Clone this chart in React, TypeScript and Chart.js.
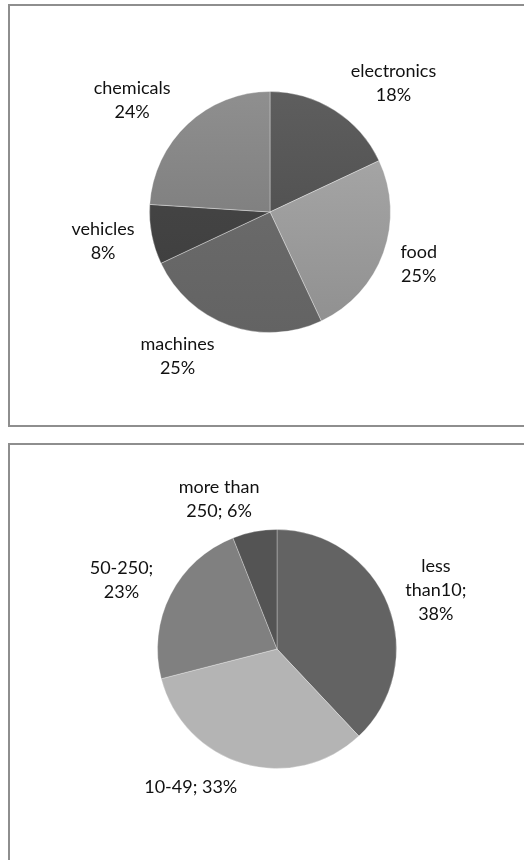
import React, { useEffect, useRef } from "react";
import { Chart, registerables } from "chart.js";

Chart.register(...registerables);

// ---- data ----
const industryLabels = ["electronics", "food", "machines", "vehicles", "chemicals"];
const industryShares = [18, 25, 25, 8, 24];

const sizeLabels = ["less than10", "10-49", "50-250", "more than 250"];
const sizeShares = [38, 33, 23, 6];

// ---- styles ----
const industryTop = ["#5e5e5e", "#adadad", "#707070", "#4a4a4a", "#8f8f8f"];
const industryBottom = ["#474747", "#8f8f8f", "#636363", "#3c3c3c", "#727272"];
const sizeColors = ["#636363", "#b4b4b4", "#808080", "#545454"];
const sizeWrap = [72, 130, 72, 95];

const FONT_FAMILY = "Lato, 'Open Sans', sans-serif";
const FONT_SIZE = 18;
const LINE_H = 24;

function wrapText(ctx: CanvasRenderingContext2D, text: string, maxW: number): string[] {
  const words = text.split(" ");
  const lines: string[] = [];
  let cur = "";
  for (const w of words) {
    const test = cur ? cur + " " + w : w;
    if (cur && ctx.measureText(test).width > maxW) {
      lines.push(cur);
      cur = w;
    } else {
      cur = test;
    }
  }
  if (cur) lines.push(cur);
  return lines;
}

function makeLabelPlugin(getLines: (i: number, ctx: CanvasRenderingContext2D) => string[], gap: number) {
  return {
    id: "outsideLabels",
    afterDatasetsDraw(chart: any) {
      const ctx: CanvasRenderingContext2D = chart.ctx;
      const meta = chart.getDatasetMeta(0);
      ctx.save();
      ctx.font = `${FONT_SIZE}px ${FONT_FAMILY}`;
      ctx.fillStyle = "#111";
      ctx.textAlign = "center";
      ctx.textBaseline = "middle";
      meta.data.forEach((arc: any, i: number) => {
        const p = arc.getProps(["x", "y", "startAngle", "endAngle", "outerRadius"], true);
        const mid = (p.startAngle + p.endAngle) / 2;
        const R = p.outerRadius + gap;
        const c = Math.cos(mid);
        const s = Math.sin(mid);
        const ax = p.x + c * R;
        const ay = p.y + s * R;
        const lines = getLines(i, ctx);
        const w = Math.max(...lines.map((l) => ctx.measureText(l).width));
        const h = lines.length * LINE_H;
        const cx = ax + Math.max(-1, Math.min(1, c * 3)) * (w / 2) + Math.sign(c) * 10 * s * s;
        const cy = ay + s * (h / 2) * 0.65;
        lines.forEach((l, k) => {
          ctx.fillText(l, cx, cy - h / 2 + LINE_H * (k + 0.5));
        });
      });
      ctx.restore();
    },
  };
}

function PieCanvas(props: {
  width: number;
  height: number;
  labels: string[];
  values: number[];
  bg: any;
  padding: { left: number; right: number; top: number; bottom: number };
  borderColor: string;
  getLines: (i: number, ctx: CanvasRenderingContext2D) => string[];
  gap: number;
  style: React.CSSProperties;
}) {
  const ref = useRef<HTMLCanvasElement | null>(null);
  useEffect(() => {
    if (!ref.current) return;
    const chart = new Chart(ref.current, {
      type: "pie",
      data: {
        labels: props.labels,
        datasets: [
          {
            data: props.values,
            backgroundColor: props.bg,
            borderColor: props.borderColor,
            borderWidth: 1,
          },
        ],
      },
      options: {
        responsive: false,
        animation: false,
        layout: { padding: props.padding },
        plugins: {
          legend: { display: false },
          tooltip: { enabled: false },
          title: { display: false },
        },
      },
      plugins: [makeLabelPlugin(props.getLines, props.gap)],
    });
    return () => chart.destroy();
  }, []);
  return <canvas ref={ref} width={props.width} height={props.height} style={props.style} />;
}

export default function App() {
  const industryBg = (c: any) => {
    const chart = c.chart;
    const area = chart.chartArea;
    const i = c.dataIndex ?? 0;
    if (!area) return industryTop[i];
    const g = chart.ctx.createLinearGradient(0, area.top, 0, area.bottom);
    g.addColorStop(0, industryTop[i]);
    g.addColorStop(1, industryBottom[i]);
    return g;
  };

  return (
    <div
      style={{
        position: "absolute",
        left: 0,
        top: 0,
        width: 524,
        height: 860,
        overflow: "hidden",
        background: "#fff",
      }}
    >
      <div
        style={{
          position: "absolute",
          left: 8,
          top: 4,
          width: 560,
          height: 419,
          border: "2px solid #8e8e8e",
        }}
      />
      <div
        style={{
          position: "absolute",
          left: 8,
          top: 443,
          width: 560,
          height: 500,
          border: "2px solid #8e8e8e",
        }}
      />
      <PieCanvas
        width={524}
        height={428}
        labels={industryLabels}
        values={industryShares}
        bg={industryBg}
        padding={{ left: 149, right: 133, top: 91, bottom: 95 }}
        borderColor="rgba(255,255,255,0.35)"
        getLines={(i) => [industryLabels[i], `${industryShares[i]}%`]}
        gap={17}
        style={{ position: "absolute", left: 0, top: 0, display: "block" }}
      />
      <PieCanvas
        width={524}
        height={430}
        labels={sizeLabels}
        values={sizeShares}
        bg={sizeColors}
        padding={{ left: 157, right: 127, top: 99, bottom: 91 }}
        borderColor="rgba(255,255,255,0.3)"
        getLines={(i, ctx) => wrapText(ctx, `${sizeLabels[i]}; ${sizeShares[i]}%`, sizeWrap[i])}
        gap={17}
        style={{ position: "absolute", left: 0, top: 430, display: "block" }}
      />
    </div>
  );
}
